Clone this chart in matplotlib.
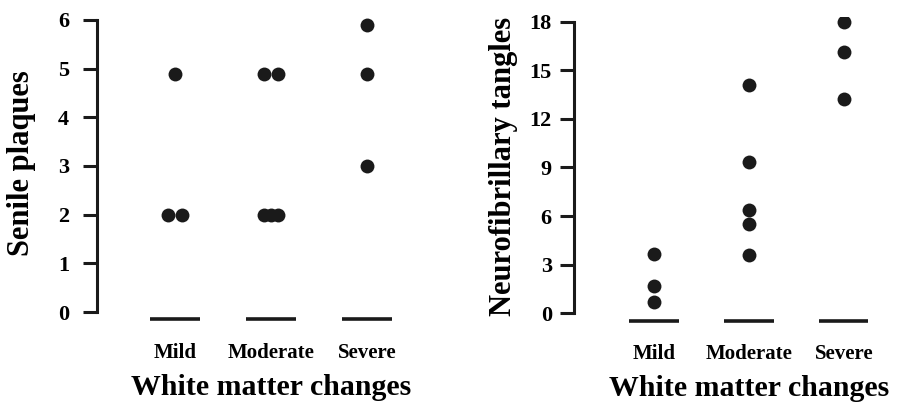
import numpy as np
import matplotlib
matplotlib.use('Agg')
import matplotlib.pyplot as plt
import matplotlib.transforms as mtransforms

plt.rcParams['font.family'] = ['Liberation Serif', 'DejaVu Serif']
plt.rcParams['font.weight'] = 'bold'
plt.rcParams['axes.labelweight'] = 'bold'

# data
categories = ['Mild', 'Moderate', 'Severe']
xlabel = 'White matter changes'

plaques_mild = [2.0, 2.0, 4.9]
plaques_moderate = [2.0, 2.0, 2.0, 4.9, 4.9]
plaques_severe = [3.0, 4.9, 5.9]
plaques_ticks = [0, 1, 2, 3, 4, 5, 6]

tangles_mild = [0.7, 1.7, 3.65]
tangles_moderate = [3.6, 5.5, 6.4, 9.35, 14.1]
tangles_severe = [13.2, 16.1, 18.0]
tangles_ticks = [0, 3, 6, 9, 12, 15, 18]


def dodge(vals, span=0.145):
    """spread identical values sideways so the dots sit next to each other"""
    vals = np.asarray(vals, dtype=float)
    offs = np.zeros(len(vals))
    for v in np.unique(vals):
        idx = np.where(vals == v)[0]
        if len(idx) > 1:
            offs[idx] = np.linspace(-span / 2, span / 2, len(idx))
    return offs


def draw_panel(ax, groups, ticks, ylabel, ylim, xlim, base_y, tick_pad, ylab_xy):
    for i, vals in enumerate(groups):
        ax.scatter(i + dodge(vals), vals, s=100, color='#1a1a1a', zorder=3, linewidths=0)
    # category baseline segments
    ax.hlines([base_y] * len(groups), np.arange(len(groups)) - 0.26,
              np.arange(len(groups)) + 0.26, color='#1a1a1a', lw=2.6)
    ax.set_xlim(*xlim)
    ax.set_ylim(*ylim)
    for s in ['top', 'right', 'bottom']:
        ax.spines[s].set_visible(False)
    ax.spines['left'].set_bounds(ticks[0], ticks[-1])
    ax.spines['left'].set_linewidth(2.2)
    ax.spines['left'].set_color('#1a1a1a')
    ax.set_yticks(ticks)
    ax.tick_params(axis='y', length=10, width=2.2, color='#1a1a1a', pad=tick_pad,
                   labelsize=16)
    ax.set_xticks(range(len(categories)))
    ax.set_xticklabels(categories)
    ax.tick_params(axis='x', length=0, pad=8, labelsize=15)
    ax.set_xlabel(xlabel, fontsize=21.5, fontweight='bold')
    trans = mtransforms.blended_transform_factory(ax.transData, ax.transAxes)
    ax.xaxis.set_label_coords(1, -0.135, transform=trans)
    ax.set_ylabel(ylabel, fontsize=22, fontweight='bold', va='center')
    ax.yaxis.set_label_coords(*ylab_xy)


fig = plt.figure(figsize=(8.97, 4.04), dpi=100)
ax1 = fig.add_axes([0.1081, 0.1795, 0.3652, 0.7831])
ax2 = fig.add_axes([0.6399, 0.1765, 0.3590, 0.7818])

draw_panel(ax1, [plaques_mild, plaques_moderate, plaques_severe], plaques_ticks,
           'Senile plaques', (-0.4, 6.1), (-0.8125, 2.6), -0.14, 10, (-0.23, 0.533))
draw_panel(ax2, [tangles_mild, tangles_moderate, tangles_severe], tangles_ticks,
           'Neurofibrillary tangles', (-1.2, 18.3), (-0.842, 2.55), -0.46, 6,
           (-0.22, 0.525))

fig.savefig('out.png', dpi=100)
